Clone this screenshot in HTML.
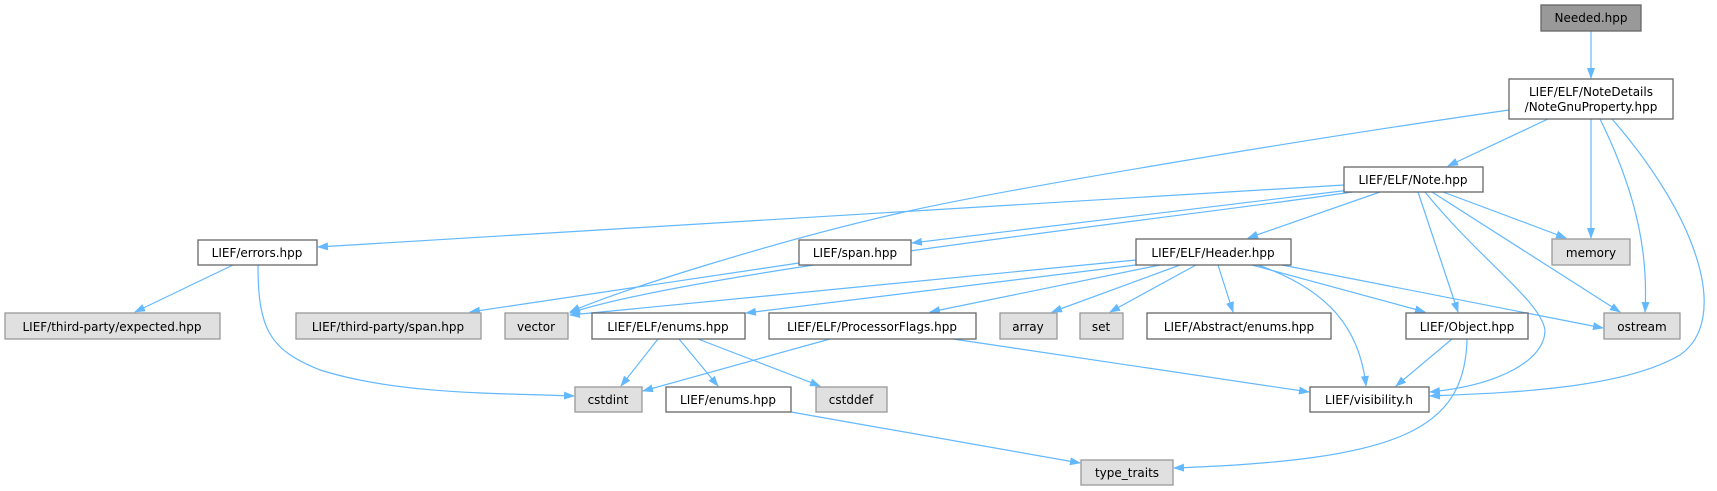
<!DOCTYPE html>
<html><head><meta charset="utf-8"><style>
html,body{margin:0;padding:0;background:#fff;}
svg{display:block;}
text{font-family:"DejaVu Sans","Liberation Sans",sans-serif;font-size:12px;fill:#000;}
.w{fill:#fff;stroke:#666;stroke-width:1.3;}
.g{fill:#e0e0e0;stroke:#999;stroke-width:1.3;}
.d{fill:#999;stroke:#666;stroke-width:1.3;}
.e{fill:none;stroke:#63b8ff;stroke-width:1.2;marker-end:url(#a);}
</style></head><body>
<svg width="1717" height="491" viewBox="0 0 1717 491" xmlns="http://www.w3.org/2000/svg">
<defs><marker id="a" markerWidth="11" markerHeight="8" refX="10" refY="4" orient="auto" markerUnits="userSpaceOnUse"><path d="M0,0 L11,4 L0,8 Z" fill="#63b8ff"/></marker></defs>
<g>
<path class="e" d="M1591,31 L1591,78"/>
<path class="e" d="M1509,110 C1300,140 1000,190 900,213 C780,240 620,290 570,312"/>
<path class="e" d="M1548,119 L1448,166"/>
<path class="e" d="M1591,119 L1591,238"/>
<path class="e" d="M1600,119 C1640,200 1648,260 1645,312"/>
<path class="e" d="M1612,119 C1700,220 1730,320 1680,355 C1620,390 1500,393 1430,396"/>
<path class="e" d="M1344,185 L318,247"/>
<path class="e" d="M1350,190 L912,243"/>
<path class="e" d="M1352,192 C1200,215 700,270 570,313"/>
<path class="e" d="M1380,192 L1248,238"/>
<path class="e" d="M1418,192 L1458,312"/>
<path class="e" d="M1425,192 C1480,260 1540,300 1545,330 C1545,360 1500,385 1430,392"/>
<path class="e" d="M1432,192 L1620,312"/>
<path class="e" d="M1443,192 L1566,238"/>
<path class="e" d="M1136,260 L570,315"/>
<path class="e" d="M1136,265 L746,313"/>
<path class="e" d="M1160,265 L930,312"/>
<path class="e" d="M1180,265 L1052,312"/>
<path class="e" d="M1196,265 L1110,312"/>
<path class="e" d="M1218,265 L1233,312"/>
<path class="e" d="M1252,265 L1425,312"/>
<path class="e" d="M1258,265 C1330,290 1360,330 1366,386"/>
<path class="e" d="M1282,265 L1603,328"/>
<path class="e" d="M799,263 L470,312"/>
<path class="e" d="M233,265 L135,312"/>
<path class="e" d="M258,265 C258,330 270,350 320,370 C400,395 500,393 574,396"/>
<path class="e" d="M658,339 L621,386"/>
<path class="e" d="M679,339 L718,386"/>
<path class="e" d="M698,339 L820,386"/>
<path class="e" d="M830,339 L643,391"/>
<path class="e" d="M953,339 L1309,392"/>
<path class="e" d="M791,412 L1080,463"/>
<path class="e" d="M1452,339 L1396,386"/>
<path class="e" d="M1467,339 C1465,430 1400,460 1174,468"/>
</g>
<g>
<rect class="d" x="1541" y="5" width="100" height="26"/><text x="1591" y="22" text-anchor="middle">Needed.hpp</text>
<rect class="w" x="1509" y="79" width="164" height="40"/><text x="1591" y="96" text-anchor="middle">LIEF/ELF/NoteDetails</text><text x="1591" y="111" text-anchor="middle">/NoteGnuProperty.hpp</text>
<rect class="w" x="1344" y="167" width="139" height="25"/><text x="1413" y="184" text-anchor="middle">LIEF/ELF/Note.hpp</text>
<rect class="w" x="198" y="240" width="119" height="25"/><text x="257" y="257" text-anchor="middle">LIEF/errors.hpp</text>
<rect class="w" x="799" y="240" width="112" height="25"/><text x="855" y="257" text-anchor="middle">LIEF/span.hpp</text>
<rect class="w" x="1136" y="239" width="155" height="26"/><text x="1213" y="257" text-anchor="middle">LIEF/ELF/Header.hpp</text>
<rect class="g" x="1552" y="239" width="78" height="26"/><text x="1591" y="257" text-anchor="middle">memory</text>
<rect class="g" x="5" y="313" width="215" height="26"/><text x="112" y="331" text-anchor="middle">LIEF/third-party/expected.hpp</text>
<rect class="g" x="296" y="313" width="185" height="26"/><text x="388" y="331" text-anchor="middle">LIEF/third-party/span.hpp</text>
<rect class="g" x="505" y="313" width="63" height="26"/><text x="536" y="331" text-anchor="middle">vector</text>
<rect class="w" x="592" y="313" width="153" height="26"/><text x="668" y="331" text-anchor="middle">LIEF/ELF/enums.hpp</text>
<rect class="w" x="769" y="313" width="207" height="26"/><text x="872" y="331" text-anchor="middle">LIEF/ELF/ProcessorFlags.hpp</text>
<rect class="g" x="1000" y="313" width="57" height="26"/><text x="1028" y="331" text-anchor="middle">array</text>
<rect class="g" x="1080" y="313" width="43" height="26"/><text x="1101" y="331" text-anchor="middle">set</text>
<rect class="w" x="1147" y="313" width="184" height="26"/><text x="1239" y="331" text-anchor="middle">LIEF/Abstract/enums.hpp</text>
<rect class="w" x="1406" y="313" width="122" height="26"/><text x="1467" y="331" text-anchor="middle">LIEF/Object.hpp</text>
<rect class="g" x="1604" y="313" width="76" height="26"/><text x="1642" y="331" text-anchor="middle">ostream</text>
<rect class="g" x="575" y="387" width="67" height="25"/><text x="608" y="404" text-anchor="middle">cstdint</text>
<rect class="w" x="666" y="387" width="125" height="25"/><text x="728" y="404" text-anchor="middle">LIEF/enums.hpp</text>
<rect class="g" x="816" y="387" width="71" height="25"/><text x="851" y="404" text-anchor="middle">cstddef</text>
<rect class="w" x="1310" y="387" width="119" height="25"/><text x="1369" y="404" text-anchor="middle">LIEF/visibility.h</text>
<rect class="g" x="1081" y="460" width="92" height="25"/><text x="1127" y="477" text-anchor="middle">type_traits</text>
</g>
</svg>
</body></html>
